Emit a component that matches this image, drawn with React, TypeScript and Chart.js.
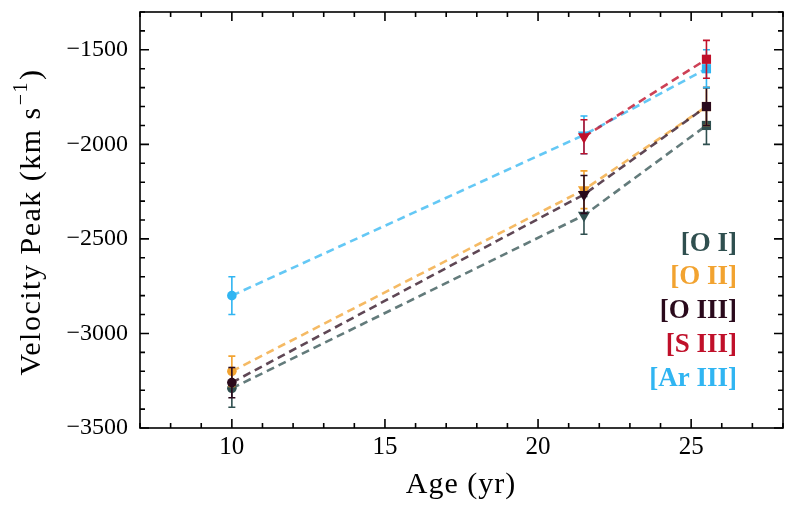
import React, { useEffect, useRef } from "react";
import { Chart, registerables } from "chart.js";
Chart.register(...registerables);

const ages = [10, 21.5, 25.5];
const labels = ["[O I]", "[O II]", "[O III]", "[S III]", "[Ar III]"];
const oI = [-3290, -2375, -1900];
const oIErr = [100, 100, 100];
const oII = [-3200, -2240, -1800];
const oIIErr = [80, 100, 100];
const oIII = [-3260, -2265, -1800];
const oIIIErr = [80, 100, 100];
const sIII = [null, -1960, -1550];
const sIIIErr = [0, 90, 100];
const arIII = [-2800, -1950, -1600];
const arIIIErr = [100, 100, 100];
const xTicks = [10, 15, 20, 25];
const yTicks = [-3500, -3000, -2500, -2000, -1500];
const xTitle = "Age (yr)";
const yTitle = "Velocity Peak (km s";
const yTitleSup = "\u22121";

const markerColors = ["#2F4F4F", "#F2A330", "#2A0A1C", "#C0102A", "#30B5F2"];
const lineColors = [
  "rgba(47,79,79,0.75)",
  "rgba(242,163,48,0.75)",
  "rgba(42,10,28,0.75)",
  "rgba(192,16,42,0.8)",
  "rgba(48,181,242,0.75)",
];
const FONT = "'Liberation Serif', 'Times New Roman', serif";

const values = [oI, oII, oIII, sIII, arIII];
const errs = [oIErr, oIIErr, oIIIErr, sIIIErr, arIIIErr];
const orders = [5, 4, 3, 1, 2];

const fmt = (v: number) => (v < 0 ? "\u2212" : "") + Math.abs(v);

const customPlugin = {
  id: "custom",
  afterDatasetDraw(chart: any, args: any) {
    const i = args.index;
    const ctx = chart.ctx;
    const xs = chart.scales.x;
    const ys = chart.scales.y;
    ctx.save();
    ctx.strokeStyle = markerColors[i];
    ctx.lineWidth = 1.6;
    values[i].forEach((v: number | null, j: number) => {
      if (v === null || !errs[i][j]) return;
      const px = xs.getPixelForValue(ages[j]);
      const t = ys.getPixelForValue(v + errs[i][j]);
      const b = ys.getPixelForValue(v - errs[i][j]);
      ctx.beginPath();
      ctx.moveTo(px, t);
      ctx.lineTo(px, b);
      ctx.moveTo(px - 3.5, t);
      ctx.lineTo(px + 3.5, t);
      ctx.moveTo(px - 3.5, b);
      ctx.lineTo(px + 3.5, b);
      ctx.stroke();
    });
    ctx.restore();
  },
  afterDraw(chart: any) {
    const ctx = chart.ctx;
    const a = chart.chartArea;
    const xs = chart.scales.x;
    const ys = chart.scales.y;
    ctx.save();
    ctx.strokeStyle = "#000";
    ctx.lineWidth = 1.6;
    ctx.strokeRect(a.left, a.top, a.right - a.left, a.bottom - a.top);
    ctx.beginPath();
    for (let v = 7; v <= 28; v++) {
      const px = xs.getPixelForValue(v);
      const L = v % 5 === 0 ? 9 : 5;
      ctx.moveTo(px, a.bottom);
      ctx.lineTo(px, a.bottom - L);
      ctx.moveTo(px, a.top);
      ctx.lineTo(px, a.top + L);
    }
    for (let v = -3500; v <= -1300; v += 100) {
      const py = ys.getPixelForValue(v);
      const L = v % 500 === 0 ? 9 : 5;
      ctx.moveTo(a.left, py);
      ctx.lineTo(a.left + L, py);
      ctx.moveTo(a.right, py);
      ctx.lineTo(a.right - L, py);
    }
    ctx.stroke();

    // legend text
    ctx.font = "bold 27px " + FONT;
    ctx.textAlign = "right";
    ctx.textBaseline = "middle";
    const ly = [244, 277, 311, 345, 379];
    labels.forEach((l, i) => {
      ctx.fillStyle = markerColors[i];
      ctx.fillText(l, 737, ly[i]);
    });

    // axis titles
    ctx.fillStyle = "#000";
    (ctx as any).letterSpacing = "1px";
    ctx.font = "30px " + FONT;
    ctx.textAlign = "center";
    ctx.textBaseline = "alphabetic";
    ctx.fillText(xTitle, 461, 493);

    ctx.save();
    ctx.translate(40, 222);
    ctx.rotate(-Math.PI / 2);
    (ctx as any).letterSpacing = "1.5px";
    ctx.font = "30px " + FONT;
    const w1 = ctx.measureText(yTitle).width;
    ctx.font = "20px " + FONT;
    const w2 = ctx.measureText(yTitleSup).width;
    ctx.font = "30px " + FONT;
    const w3 = ctx.measureText(")").width;
    const total = w1 + w2 + w3 + 2;
    let x0 = -total / 2;
    ctx.textAlign = "left";
    ctx.fillText(yTitle, x0, 0);
    ctx.font = "20px " + FONT;
    ctx.fillText(yTitleSup, x0 + w1 + 1, -13);
    ctx.font = "30px " + FONT;
    ctx.fillText(")", x0 + w1 + w2 + 2, 0);
    ctx.restore();
    ctx.restore();
  },
};

export default function App() {
  const ref = useRef<HTMLCanvasElement>(null);
  useEffect(() => {
    document.body.style.margin = "0";
    const datasets = values.map((vals, i) => ({
      label: labels[i],
      data: vals
        .map((v, j) => (v === null ? null : { x: ages[j], y: v }))
        .filter((p) => p !== null),
      showLine: true,
      borderColor: lineColors[i],
      borderWidth: 2.6,
      borderDash: [8, 5],
      backgroundColor: markerColors[i],
      pointBackgroundColor: markerColors[i],
      pointBorderColor: markerColors[i],
      pointBorderWidth: 0,
      pointStyle: (ctx: any) => {
        const x = ctx.raw?.x;
        return x === 10 ? "circle" : x === 21.5 ? "triangle" : "rect";
      },
      pointRotation: (ctx: any) => (ctx.raw?.x === 21.5 ? 180 : 0),
      pointRadius: (ctx: any) => {
        const x = ctx.raw?.x;
        return x === 10 ? 4.8 : x === 21.5 ? 7 : 6.5;
      },
      order: orders[i],
    }));
    const chart = new Chart(ref.current!, {
      type: "scatter",
      data: { datasets },
      plugins: [customPlugin],
      options: {
        responsive: false,
        animation: false,
        layout: { padding: { top: 12, right: 15, left: 0, bottom: 0 } },
        plugins: { legend: { display: false }, tooltip: { enabled: false } },
        scales: {
          x: {
            type: "linear",
            min: 7,
            max: 28,
            grid: { display: false, drawTicks: false },
            border: { display: false },
            afterBuildTicks: (s: any) => {
              s.ticks = xTicks.map((v) => ({ value: v }));
            },
            afterFit: (s: any) => {
              s.height = 79;
              s.paddingLeft = 0;
              s.paddingRight = 0;
            },
            ticks: {
              color: "#000",
              font: { family: FONT, size: 25 },
              padding: 4,
              maxRotation: 0,
              callback: (v: any) => fmt(Number(v)),
            },
            title: { display: false },
          },
          y: {
            type: "linear",
            min: -3500,
            max: -1300,
            grid: { display: false, drawTicks: false },
            border: { display: false },
            afterBuildTicks: (s: any) => {
              s.ticks = yTicks.map((v) => ({ value: v }));
            },
            afterFit: (s: any) => {
              s.width = 140;
              s.paddingTop = 0;
              s.paddingBottom = 0;
            },
            ticks: {
              color: "#000",
              font: { family: FONT, size: 24 },
              padding: 12,
              callback: (v: any) => fmt(Number(v)),
            },
            title: { display: false },
          },
        },
      },
    });
    return () => chart.destroy();
  }, []);
  return (
    <div style={{ width: 798, height: 507 }}>
      <canvas ref={ref} width={798} height={507} />
    </div>
  );
}
